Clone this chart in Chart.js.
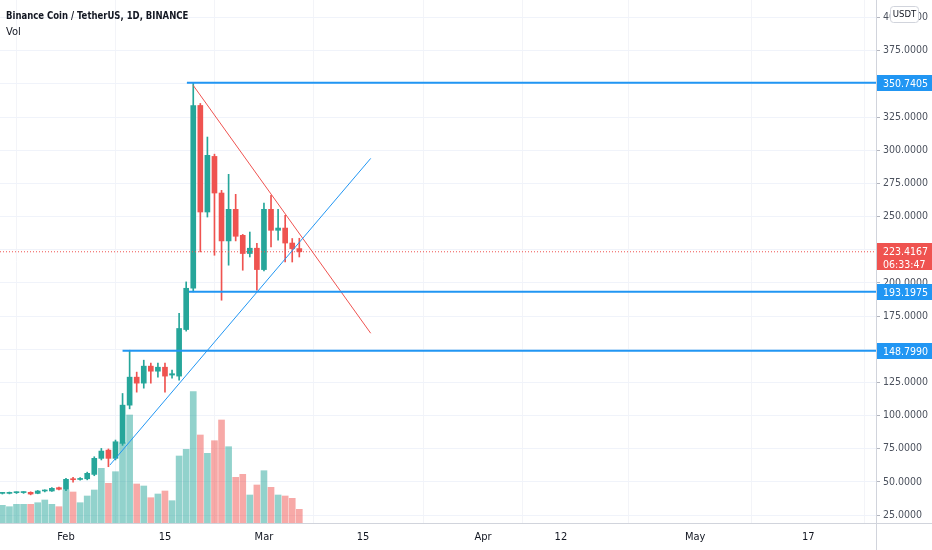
<!DOCTYPE html>
<html>
<head>
<meta charset="utf-8">
<script src="https://cdn.jsdelivr.net/npm/chart.js@4.4.0/dist/chart.umd.min.js"></script>
<style>
html, body { margin: 0; padding: 0; background: #fff; }
#wrap { position: relative; width: 932px; height: 550px; }
#title, #vol { position: absolute; left: 6px; color: #131722; font-family: "DejaVu Sans Condensed", "DejaVu Sans", sans-serif; white-space: nowrap; transform-origin: 0 0; }
#title { top: 9px; font-size: 10.5px; font-weight: bold; transform: scaleX(0.9); }
#vol { top: 25px; font-size: 11px; }
</style>
</head>
<body>
<div id="wrap">
  <canvas id="chart" width="932" height="550"></canvas>
  <div id="title">Binance Coin / TetherUS, 1D, BINANCE</div>
  <div id="vol">Vol</div>
</div>
<script>
// daily candles, BNB/USDT
var dates = [
  '2021-01-23','2021-01-24','2021-01-25','2021-01-26','2021-01-27','2021-01-28','2021-01-29','2021-01-30','2021-01-31',
  '2021-02-01','2021-02-02','2021-02-03','2021-02-04','2021-02-05','2021-02-06','2021-02-07','2021-02-08','2021-02-09','2021-02-10',
  '2021-02-11','2021-02-12','2021-02-13','2021-02-14','2021-02-15','2021-02-16','2021-02-17','2021-02-18','2021-02-19','2021-02-20',
  '2021-02-21','2021-02-22','2021-02-23','2021-02-24','2021-02-25','2021-02-26','2021-02-27','2021-02-28',
  '2021-03-01','2021-03-02','2021-03-03','2021-03-04','2021-03-05','2021-03-06'
];
var opens  = [41.3,41.3,41.8,41.9,42.1,41.3,43.1,43.1,45.6, 44.4,52.3,51.8,52.3,55.6,67.7,73.9,67.7,79.0,107.8,
              128.9,124.4,137.2,133.4,136.4,130.5,129.7,164.8,195.9,333.7, 253.4,295.3,267.7,231.6,255.4,235.8,222.1,226.1,
              210.0,255.4,239.6,241.3,230.0,225.8];
var highs  = [42.0,42.3,42.5,42.6,42.5,43.5,44.0,45.6,46.0, 52.6,53.4,53.2,57.3,68.9,75.2,74.8,81.5,116.6,149.2,
              132.7,141.7,139.5,139.5,139.5,134.2,177.1,200.7,350.7,335.2, 309.9,297.0,269.7,281.8,266.7,236.5,238.3,229.8,
              260.2,266.0,255.4,250.9,233.4,233.6];
var lows   = [40.8,40.9,41.2,41.3,40.2,41.0,42.4,42.8,43.9, 43.3,49.8,51.2,51.5,54.6,66.5,61.4,66.5,77.5,105.0,
              117.6,120.6,124.4,128.9,117.6,128.2,126.7,163.6,193.2,223.3, 249.6,220.8,186.9,213.3,231.6,209.5,219.5,194.4,
              209.0,227.0,232.1,215.7,215.7,219.5];
var closes = [41.5,41.8,41.9,42.0,40.8,43.1,43.3,45.1,44.4, 51.9,51.6,52.4,56.4,67.7,73.2,67.7,80.2,107.8,128.9,
              124.4,137.2,133.4,136.4,129.7,131.5,165.6,195.9,333.7,253.4, 296.1,267.7,231.6,255.4,235.1,222.1,226.1,210.0,
              255.4,239.6,241.3,230.0,225.8,223.4167];
var volumes = [1.77,1.63,1.87,1.87,1.87,2.03,2.30,1.87,1.63, 3.30,3.10,2.03,2.70,3.30,5.47,3.97,5.13,8.03,10.80,
               3.90,3.70,2.53,2.90,3.20,2.23,6.70,7.37,13.13,8.80, 6.97,8.23,10.30,7.63,4.57,4.87,2.80,3.80,
               5.23,3.57,2.80,2.70,2.47,1.37];

var priceTicks = [25,50,75,100,125,150,175,200,225,250,275,300,325,350,375,400];
var dateTicks = ['2021-02-01','2021-02-15','2021-03-01','2021-03-15','2021-04-01','2021-04-12','2021-05-01','2021-05-17'];
var dateTickLabels = ['Feb','15','Mar','15','Apr','12','May','17'];

// drawings (x in days from 1 Feb)
var levels = [350.7405, 193.1975, 148.7990];
var levelStart = [17.1, 17.4, 8.0];
var supportLine = [{x: 6.2, y: 62.6}, {x: 43.1, y: 293.8}];
var resistLine = [{x: 18.0, y: 348.8}, {x: 43.1, y: 162.0}];
var lastPrice = 223.4167;
var countdown = '06:33:47';

var X_MIN = -9.335, X_MAX = 114.57;
var UP = '#26a69a', DOWN = '#ef5350', BLUE = '#2196f3';
var FONT = '"DejaVu Sans Condensed", "DejaVu Sans", sans-serif';

function dayNum(s){
  return Math.round((Date.parse(s) - Date.parse('2021-02-01')) / 864e5);
}

var bodies = [], wicks = [], vols = [], colors = [], volColors = [];
for (var i = 0; i < dates.length; i++) {
  var d = dayNum(dates[i]);
  var up = closes[i] >= opens[i];
  bodies.push({x: d, y: [opens[i], closes[i]]});
  wicks.push({x: d, y: [lows[i], highs[i]]});
  vols.push({x: d, y: volumes[i]});
  colors.push(up ? UP : DOWN);
  volColors.push(up ? 'rgba(38,166,154,0.5)' : 'rgba(239,83,80,0.5)');
}

var lineSets = levels.map(function(v, k){
  return {type: 'line', data: [{x: levelStart[k], y: v}, {x: X_MAX, y: v}], borderColor: BLUE, borderWidth: 2,
          pointRadius: 0, yAxisID: 'y', order: 0};
});

var overlay = {
  id: 'overlay',
  afterDraw: function(chart){
    var ctx = chart.ctx, a = chart.chartArea, y = chart.scales.y;
    var W = chart.width, H = chart.height;
    ctx.save();
    ctx.strokeStyle = '#d1d4dc';
    ctx.lineWidth = 1;
    ctx.beginPath();
    ctx.moveTo(a.right + 0.5, 0); ctx.lineTo(a.right + 0.5, H);
    ctx.moveTo(0, a.bottom + 0.5); ctx.lineTo(W, a.bottom + 0.5);
    ctx.stroke();

    ctx.font = '10.5px ' + FONT;
    ctx.textBaseline = 'middle';
    ctx.textAlign = 'left';
    levels.forEach(function(v){
      var py = Math.round(y.getPixelForValue(v));
      ctx.fillStyle = BLUE;
      ctx.fillRect(a.right + 1, py - 8, W - a.right - 1, 16);
      ctx.fillStyle = '#fff';
      ctx.fillText(v.toFixed(4), a.right + 7, py + 1);
    });

    var py = Math.round(y.getPixelForValue(lastPrice));
    ctx.fillStyle = DOWN;
    ctx.fillRect(a.right + 1, py - 9, W - a.right - 1, 27);
    ctx.fillStyle = '#fff';
    ctx.fillText(lastPrice.toFixed(4), a.right + 7, py);
    ctx.fillText(countdown, a.right + 7, py + 13);

    // currency badge
    ctx.fillStyle = '#fff';
    ctx.strokeStyle = '#d1d4dc';
    ctx.beginPath();
    ctx.roundRect(890.5, 6.5, 28, 16, 3);
    ctx.fill();
    ctx.stroke();
    ctx.fillStyle = '#131722';
    ctx.font = '9.5px ' + FONT;
    ctx.textAlign = 'center';
    ctx.fillText('USDT', 904.5, 15);
    ctx.restore();
  }
};

new Chart(document.getElementById('chart'), {
  type: 'bar',
  data: {
    datasets: lineSets.concat([
      {type: 'line', data: supportLine, borderColor: BLUE, borderWidth: 1, pointRadius: 0, yAxisID: 'y', order: 0},
      {type: 'line', data: resistLine, borderColor: DOWN, borderWidth: 1, pointRadius: 0, yAxisID: 'y', order: 0},
      {type: 'line', data: [{x: X_MIN, y: lastPrice}, {x: X_MAX, y: lastPrice}], borderColor: DOWN, borderWidth: 1,
       borderDash: [1, 2], pointRadius: 0, yAxisID: 'y', order: 0},
      {data: bodies, backgroundColor: colors, barThickness: 5, minBarLength: 1, grouped: false, yAxisID: 'y', order: 1},
      {data: wicks, backgroundColor: colors, barThickness: 1, grouped: false, yAxisID: 'y', order: 2},
      {data: vols, backgroundColor: volColors, barThickness: 6, grouped: false, yAxisID: 'yVol', order: 10}
    ])
  },
  options: {
    responsive: false,
    animation: false,
    layout: {padding: 0},
    plugins: {legend: {display: false}, tooltip: {enabled: false}},
    scales: {
      x: {
        type: 'linear', min: X_MIN, max: X_MAX, offset: false,
        afterBuildTicks: function(s){ s.ticks = dateTicks.map(function(t){ return {value: dayNum(t)}; }); },
        afterFit: function(s){ s.height = 27; s.paddingLeft = 0; s.paddingRight = 0; },
        grid: {color: '#f3f4f8', drawTicks: false},
        border: {display: false},
        ticks: {
          autoSkip: false, maxRotation: 0, padding: 8, color: '#131722',
          font: {family: FONT, size: 11},
          callback: function(v){ var k = dateTicks.map(dayNum).indexOf(v); return k < 0 ? '' : dateTickLabels[k]; }
        }
      },
      y: {
        position: 'right', min: 18.97, max: 413.2,
        afterBuildTicks: function(s){ s.ticks = priceTicks.map(function(v){ return {value: v}; }); },
        afterFit: function(s){ s.width = 56; s.paddingTop = 0; s.paddingBottom = 0; },
        grid: {color: '#f0f3fa', tickColor: '#b2b5be', tickLength: 4},
        border: {display: false},
        ticks: {padding: 3, color: '#4c525e', font: {family: FONT, size: 10.5},
                callback: function(v){ return v.toFixed(4); }}
      },
      yVol: {display: false, min: 0, max: 52.3}
    }
  },
  plugins: [overlay]
});
</script>
</body>
</html>
